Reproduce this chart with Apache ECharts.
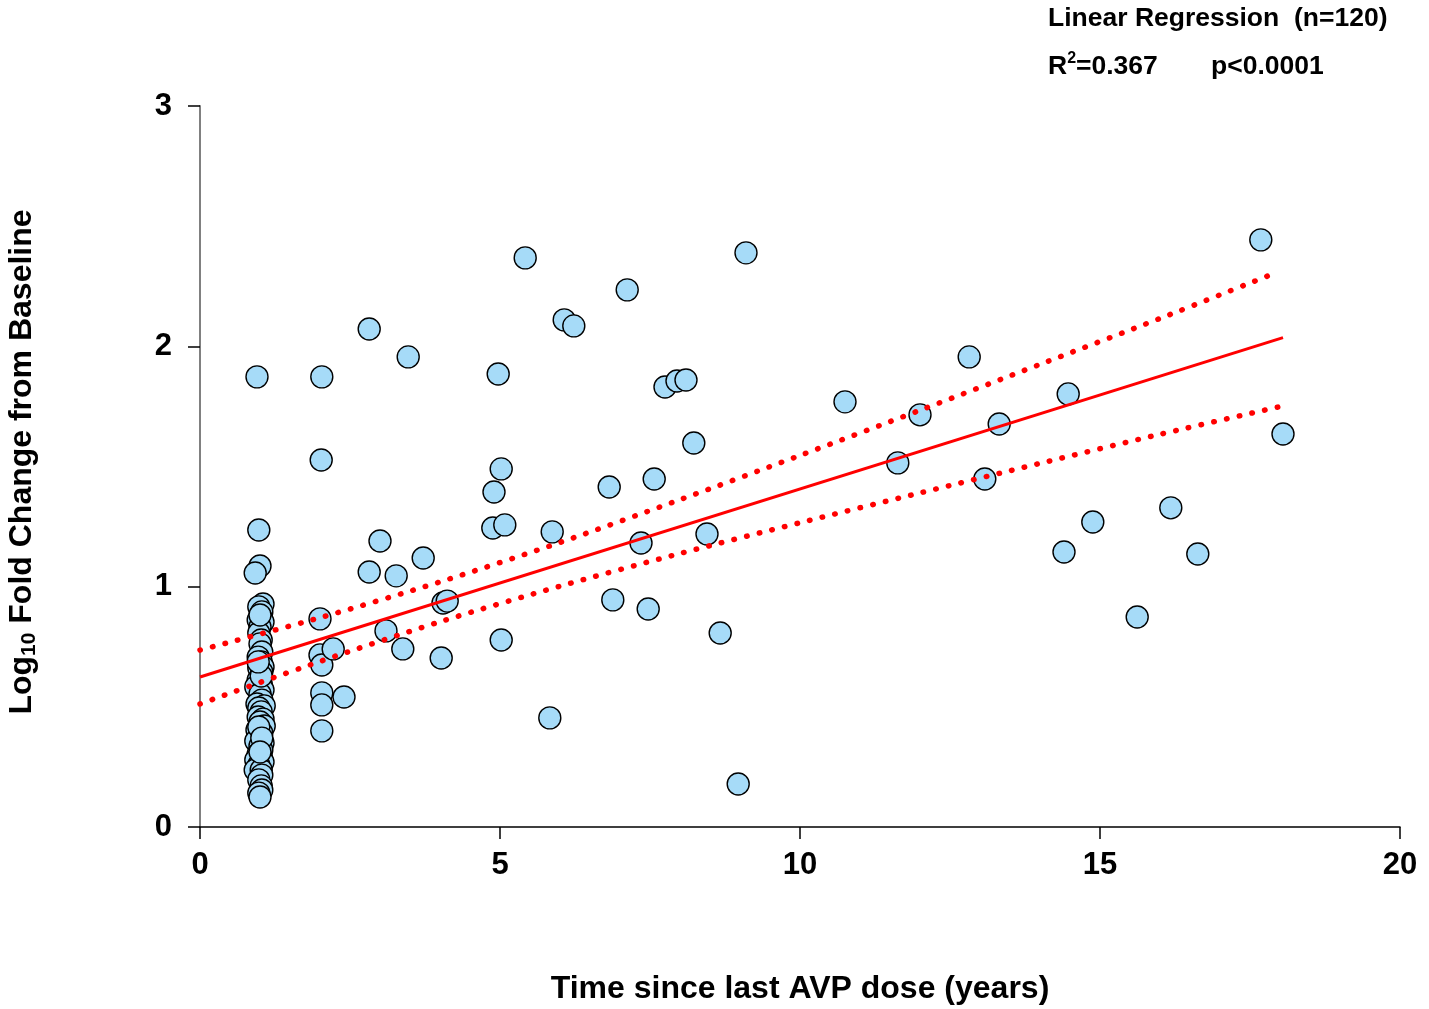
<!DOCTYPE html>
<html>
<head>
<meta charset="utf-8">
<style>
html, body { margin: 0; padding: 0; background: #fff; }
#myChart { width: 1429px; height: 1009px; }
</style>
<script src="https://cdn.jsdelivr.net/npm/echarts@6/dist/echarts.min.js"></script>
</head>
<body>
<div id="myChart"></div>
<script>
// time since last AVP dose (years) and log10 fold change
var years = [
  // cluster at ~1 year
  0.95, 0.98, 1.0, 0.92, 1.05, 0.98, 1.03, 0.97, 1.02, 1.05,
  1.0, 0.98, 1.02, 1.0, 1.03, 0.97, 1.02, 1.05, 0.98, 1.03,
  0.97, 1.02, 0.93, 1.05, 1.0, 1.03, 0.95, 1.07, 0.98, 1.02,
  0.97, 1.05, 1.0, 1.07, 0.95, 1.03, 0.98, 0.93, 1.05, 1.0,
  1.03, 0.97, 1.02, 0.93, 1.05, 0.98, 0.92, 1.02, 1.03, 0.98,
  1.02, 1.03, 0.98, 1.0, 1.0, 1.02, 0.98, 1.03, 1.0, 0.97,
  // ~2 years
  2.03, 2.02, 2.0, 2.0, 2.03, 2.22, 2.03, 2.4, 2.03, 2.03,
  // the rest
  2.82, 3.47, 4.97, 5.02, 4.9, 4.88, 5.08, 5.87, 3.0, 3.72,
  2.82, 3.27, 4.05, 4.12, 3.1, 3.38, 4.02, 5.02, 5.83, 5.42,
  6.07, 6.23, 7.12, 9.1, 7.75, 7.95, 8.1, 8.23, 6.82, 7.57,
  7.35, 6.88, 7.47, 8.45, 8.67, 8.97, 10.75, 11.63, 12.0, 12.82,
  13.32, 13.08, 14.47, 14.4, 14.88, 15.62, 16.18, 16.63, 17.68, 18.05
]
var logChange = [
  1.873, 1.236, 1.086, 1.057, 0.928, 0.916, 0.895, 0.861, 0.870, 0.853,
  0.832, 0.807, 0.778, 0.762, 0.728, 0.707, 0.687, 0.666, 0.662, 0.645,
  0.612, 0.595, 0.583, 0.570, 0.553, 0.528, 0.512, 0.504, 0.495, 0.479,
  0.458, 0.449, 0.437, 0.420, 0.404, 0.391, 0.375, 0.358, 0.350, 0.337,
  0.320, 0.304, 0.291, 0.279, 0.270, 0.258, 0.237, 0.237, 0.216, 0.196,
  0.171, 0.154, 0.141, 0.125, 0.882, 0.628, 0.416, 0.370, 0.312, 0.687,
  1.873, 1.527, 0.866, 0.716, 0.674, 0.741, 0.558, 0.541, 0.508, 0.400,
  2.072, 1.956, 1.885, 1.490, 1.394, 1.244, 1.257, 1.228, 1.190, 1.119,
  1.061, 1.045, 0.932, 0.940, 0.816, 0.741, 0.703, 0.778, 0.454, 2.368,
  2.110, 2.085, 2.235, 2.389, 1.831, 1.856, 1.860, 1.598, 1.415, 1.448,
  1.182, 0.945, 0.907, 1.219, 0.807, 0.179, 1.769, 1.515, 1.715, 1.956,
  1.677, 1.448, 1.802, 1.144, 1.269, 0.874, 1.328, 1.136, 2.443, 1.635
]

// regression line and 95% band
var fitX = [0, 18.05]
var fitY = [0.624, 2.036]
var bandX = [0, 2, 4, 6, 8, 10, 12, 14, 16, 17.95]
var upperBand = [0.736, 0.871, 1.020, 1.184, 1.362, 1.546, 1.734, 1.925, 2.116, 2.308]
var lowerBand = [0.512, 0.689, 0.854, 1.002, 1.138, 1.266, 1.390, 1.513, 1.634, 1.752]

var xTicks = [0, 5, 10, 15, 20]
var yTicks = [0, 1, 2, 3]

function pairs(xs, ys) {
  var out = []
  for (var i = 0; i < xs.length; i++) out.push([xs[i], ys[i]])
  return out
}

var lowerX = bandX.slice()
lowerX[lowerX.length - 1] = 18.05

var font = 'Liberation Sans, Arial, sans-serif'
var myChart = echarts.init(document.getElementById('myChart'))
myChart.setOption({
  animation: false,
  backgroundColor: '#fff',
  grid: { left: 200, right: 29, top: 106, bottom: 182, outerBoundsMode: 'none', containLabel: false },
  xAxis: {
    type: 'value',
    min: xTicks[0],
    max: xTicks[xTicks.length - 1],
    interval: 5,
    splitLine: { show: false },
    axisLine: { onZero: false, lineStyle: { color: '#000', width: 1.5 } },
    axisTick: { length: 12, lineStyle: { color: '#000', width: 1.5 } },
    axisLabel: { fontSize: 31, fontWeight: 'bold', color: '#000', fontFamily: font, margin: 23 },
    name: 'Time since last AVP dose (years)',
    nameLocation: 'middle',
    nameGap: 146,
    nameTextStyle: { fontSize: 32, fontWeight: 'bold', color: '#000', fontFamily: font }
  },
  yAxis: {
    type: 'value',
    min: yTicks[0],
    max: yTicks[yTicks.length - 1],
    interval: 1,
    splitLine: { show: false },
    axisLine: { show: true, onZero: false, lineStyle: { color: '#808080', width: 2 } },
    axisTick: { show: true, length: 12, lineStyle: { color: '#000', width: 1.5 } },
    axisLabel: { fontSize: 31, fontWeight: 'bold', color: '#000', fontFamily: font, margin: 28 }
  },
  graphic: [
    {
      type: 'text',
      x: 22,
      y: 462,
      rotation: Math.PI / 2,
      style: {
        text: '{a|Log}{s|10}{a| Fold Change from Baseline}',
        align: 'center',
        verticalAlign: 'middle',
        fill: '#000',
        rich: {
          a: { fontSize: 32, fontWeight: 'bold', fontFamily: font, lineHeight: 36, verticalAlign: 'middle' },
          s: { fontSize: 21, fontWeight: 'bold', fontFamily: font, lineHeight: 36, verticalAlign: 'bottom', padding: [13, 0, 0, 0] }
        }
      }
    },
    {
      type: 'text',
      x: 1048,
      y: 19,
      style: {
        text: 'Linear Regression  (n=120)',
        fontSize: 26.5,
        fontWeight: 'bold',
        fontFamily: font,
        fill: '#000',
        verticalAlign: 'middle'
      }
    },
    {
      type: 'text',
      x: 1048,
      y: 67,
      style: {
        text: '{a|R}{s|2}{a|=0.367}',
        fill: '#000',
        verticalAlign: 'middle',
        rich: {
          a: { fontSize: 26.5, fontWeight: 'bold', fontFamily: font, lineHeight: 32, verticalAlign: 'middle' },
          s: { fontSize: 16, fontWeight: 'bold', fontFamily: font, lineHeight: 32, verticalAlign: 'top', padding: [0, 0, 9, 0] }
        }
      }
    },
    {
      type: 'text',
      x: 1211,
      y: 67,
      style: {
        text: 'p<0.0001',
        fontSize: 26.5,
        fontWeight: 'bold',
        fontFamily: font,
        fill: '#000',
        verticalAlign: 'middle'
      }
    }
  ],
  series: [
    {
      type: 'scatter',
      data: pairs(years, logChange),
      symbol: 'circle',
      symbolSize: 22,
      z: 2,
      itemStyle: { color: '#a6dbf8', borderColor: '#000', borderWidth: 1.4, opacity: 1 }
    },
    {
      type: 'line',
      data: pairs(fitX, fitY),
      symbol: 'none',
      z: 5,
      lineStyle: { color: '#ff0000', width: 3 }
    },
    {
      type: 'line',
      data: pairs(bandX, upperBand),
      symbol: 'none',
      smooth: 0.3,
      z: 5,
      lineStyle: { color: '#ff0000', width: 5.5, type: [0.5, 12.5], cap: 'round' }
    },
    {
      type: 'line',
      data: pairs(lowerX, lowerBand),
      symbol: 'none',
      smooth: 0.3,
      z: 5,
      lineStyle: { color: '#ff0000', width: 5.5, type: [0.5, 12.5], cap: 'round' }
    }
  ]
})
</script>
</body>
</html>
